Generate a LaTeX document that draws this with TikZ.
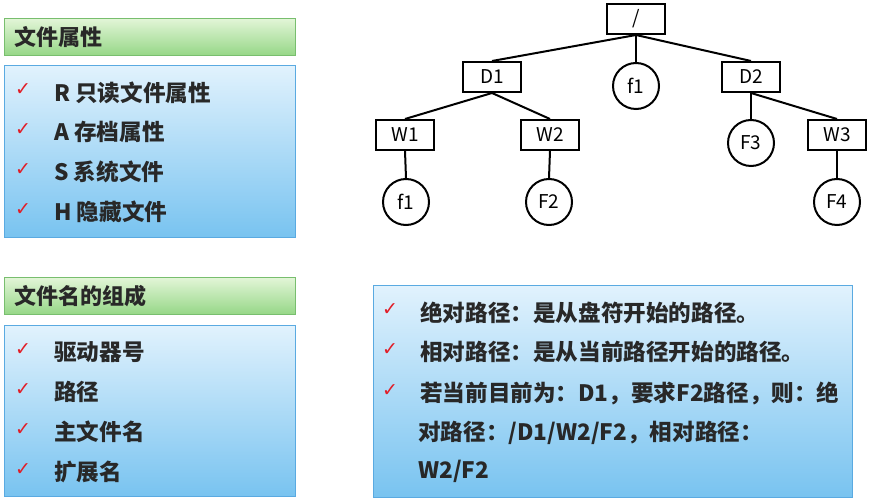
\documentclass[tikz,border=0pt]{standalone}
\usepackage{fontspec}
\setmainfont{Noto Sans CJK SC}
\newfontfamily\symfont{DejaVu Sans}
\usetikzlibrary{positioning}
\definecolor{headline}{RGB}{120,190,110}
\definecolor{headtop}{RGB}{226,245,215}
\definecolor{headbot}{RGB}{150,215,135}
\definecolor{panelline}{RGB}{90,170,225}
\definecolor{paneltop}{RGB}{225,242,253}
\definecolor{panelbot}{RGB}{120,195,240}
\definecolor{tickred}{RGB}{225,30,40}
\definecolor{txt}{RGB}{40,40,40}

\begin{document}
\begin{tikzpicture}[x=1pt, y=-1pt,
  head/.style={draw=headline, line width=1pt, top color=headtop, bottom color=headbot, minimum height=37pt, text width=271pt, inner xsep=10pt, inner ysep=0pt, align=left, anchor=north west, font=\fontsize{22}{26}\selectfont\bfseries, text=txt},
  panel/.style={draw=panelline, line width=1pt, top color=paneltop, bottom color=panelbot, anchor=north west, inner sep=0pt},
  tick/.style={text=tickred, inner sep=0pt, font=\symfont\fontsize{19}{19}\selectfont\bfseries},
  item/.style={anchor=west, inner sep=0pt, text=txt, font=\fontsize{22.6}{26}\selectfont\bfseries},
  dir/.style={draw, line width=2pt, minimum width=58pt, minimum height=30pt, inner sep=0pt, font=\fontsize{19}{19}\selectfont},
  file/.style={draw, circle, line width=2pt, minimum size=46pt, inner sep=0pt, font=\fontsize{19}{19}\selectfont},
  link/.style={line width=2pt}]
\useasboundingbox (0,0) rectangle (870,502);
% file attributes
\node[head] (attrhead) at (4,18) {文件属性};
\node[panel, minimum width=291pt, minimum height=172pt] (attrpanel) at (4,65) {};
\node[tick] (attrtick1) at (23,90) {✓};
\node[item] (attr1) at (54,93) {R 只读文件属性};
\node[tick] (attrtick2) at (23,130) {✓};
\node[item] (attr2) at (54,132) {A 存档属性};
\node[tick] (attrtick3) at (23,170) {✓};
\node[item] (attr3) at (54,172) {S 系统文件};
\node[tick] (attrtick4) at (23,210) {✓};
\node[item] (attr4) at (54,212) {H 隐藏文件};
% file name parts
\node[head] (namehead) at (4,277) {文件名的组成};
\node[panel, minimum width=291pt, minimum height=171pt] (namepanel) at (4,325) {};
\node[tick] (nametick1) at (23,350) {✓};
\node[item] (name1) at (54,352) {驱动器号};
\node[tick] (nametick2) at (23,390) {✓};
\node[item] (name2) at (54,392) {路径};
\node[tick] (nametick3) at (23,430) {✓};
\node[item] (name3) at (54,432) {主文件名};
\node[tick] (nametick4) at (23,470) {✓};
\node[item] (name4) at (54,472) {扩展名};
% paths
\node[panel, minimum width=479pt, minimum height=212pt] (pathpanel) at (373,285) {};
\node[tick] (pathtick1) at (390,310) {✓};
\node[item] (path1) at (420,313) {绝对路径：是从盘符开始的路径。};
\node[tick] (pathtick2) at (390,350) {✓};
\node[item] (path2) at (420,352) {相对路径：是从当前路径开始的路径。};
\node[tick] (pathtick3) at (390,391) {✓};
\node[item] (path3) at (420,393) {若当前目前为：D1，要求F2路径，则：绝};
\node[item] (path4) at (418,433) {对路径：/D1/W2/F2，相对路径：};
\node[item] (path5) at (418,471) {W2/F2};
% tree
\node[dir] (root) at (636,19) {/};
\node[dir] (d1) at (492,77) {D1};
\node[file] (f1) at (636,86) {f1};
\node[dir] (d2) at (751,77) {D2};
\node[dir] (w1) at (405,135) {W1};
\node[dir] (w2) at (550,135) {W2};
\node[file] (f3) at (751,143) {F3};
\node[dir] (w3) at (837,135) {W3};
\node[file] (f1b) at (406,202) {f1};
\node[file] (f2) at (549,202) {F2};
\node[file] (f4) at (837,202) {F4};
\draw[link] (root.south) -- (d1.north);
\draw[link] (root.south) -- (f1.north);
\draw[link] (root.south) -- (d2.north);
\draw[link] (d1.south) -- (w1.north);
\draw[link] (d1.south) -- (w2.north);
\draw[link] (d2.south) -- (f3.north);
\draw[link] (d2.south) -- (w3.north);
\draw[link] (w1.south) -- (f1b.north);
\draw[link] (w2.south) -- (f2.north);
\draw[link] (w3.south) -- (f4.north);
\end{tikzpicture}
\end{document}
